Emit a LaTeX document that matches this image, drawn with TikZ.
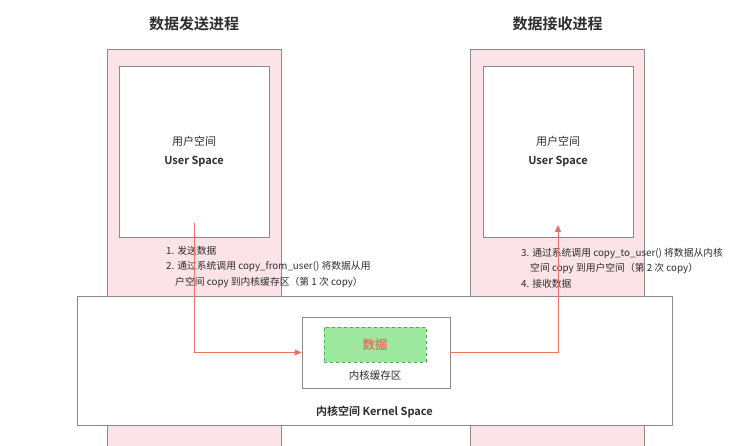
\documentclass[tikz,border=0pt]{standalone}
\usepackage{fontspec}
\setmainfont{Noto Sans CJK SC}[BoldFont={Noto Sans CJK SC Bold}]
\usetikzlibrary{arrows.meta}
\definecolor{colpink}{HTML}{FBE3E8}
\definecolor{boxgray}{HTML}{8A8A8A}
\definecolor{arrowred}{HTML}{E9735F}
\definecolor{datagreen}{HTML}{9BE89E}
\definecolor{dashgreen}{HTML}{4DAE55}
\definecolor{textgray}{HTML}{2E2E2E}
\tikzset{
  column/.style={draw=boxgray, thick, fill=colpink, minimum width=174pt, minimum height=401pt, inner sep=0pt},
  userbox/.style={draw=boxgray, thick, fill=white, minimum width=150pt, minimum height=171pt, inner sep=0pt},
  flow/.style={arrowred, line width=1pt, -{Triangle[length=7pt, width=6pt]}},
  note/.style={anchor=north west, align=left, font=\fontsize{9.8}{15.3}\selectfont, text=textgray, inner sep=0pt}
}
\begin{document}
\begin{tikzpicture}[x=1pt, y=-1pt]
    \useasboundingbox (0, 0) rectangle (755, 446);
    % Process columns
    \node[column] (sendcol) at (194, 249.5) {};
    \node[column] (recvcol) at (557.5, 249.5) {};
    \node[font=\fontsize{15}{15}\selectfont\bfseries, text=textgray] (sendtitle) at (194, 24) {数据发送进程};
    \node[font=\fontsize{15}{15}\selectfont\bfseries, text=textgray] (recvtitle) at (557.5, 24) {数据接收进程};

    % User space boxes
    \node[userbox, align=center, font=\fontsize{11}{19}\selectfont, text=textgray] (senduser) at (194, 151.5) {用户空间\\\textbf{User Space}};
    \node[userbox, align=center, font=\fontsize{11}{19}\selectfont, text=textgray] (recvuser) at (558, 151.5) {用户空间\\\textbf{User Space}};

    % Notes
    \node[note] (sendnote) at (166, 246) {1. 发送数据\\2. 通过系统调用 copy\_from\_user() 将数据从用\\\hspace*{9pt}户空间 copy 到内核缓存区（第 1 次 copy）};
    \node[note] (recvnote) at (521, 248) {3. 通过系统调用 copy\_to\_user() 将数据从内核\\\hspace*{9pt}空间 copy 到用户空间（第 2 次 copy）\\4. 接收数据};

    % Kernel space
    \node[draw=boxgray, thick, fill=white, minimum width=595pt, minimum height=129pt, inner sep=0pt] (kernel) at (374.5, 360.5) {};
    \node[font=\fontsize{11}{11}\selectfont\bfseries, text=textgray] (kerneltext) at (374.5, 412) {内核空间 Kernel Space};

    % Kernel buffer
    \node[draw=boxgray, thick, fill=white, minimum width=148pt, minimum height=71pt, inner sep=0pt] (buffer) at (376, 352.5) {};
    \node[draw=dashgreen, dashed, fill=datagreen, minimum width=102pt, minimum height=35pt, inner sep=0pt, font=\fontsize{12.5}{12.5}\selectfont\bfseries, text=arrowred] (data) at (375, 344.5) {数据};
    \node[font=\fontsize{10.5}{10.5}\selectfont, text=textgray] (buffertext) at (375, 376) {内核缓存区};

    % Copy paths
    \coordinate (sendstart) at (194, 223);
    \coordinate (recvend) at (558, 225);
    \draw[flow] (sendstart) |- (buffer.west);
    \draw[flow] (buffer.east) -| (recvend);
\end{tikzpicture}
\end{document}
